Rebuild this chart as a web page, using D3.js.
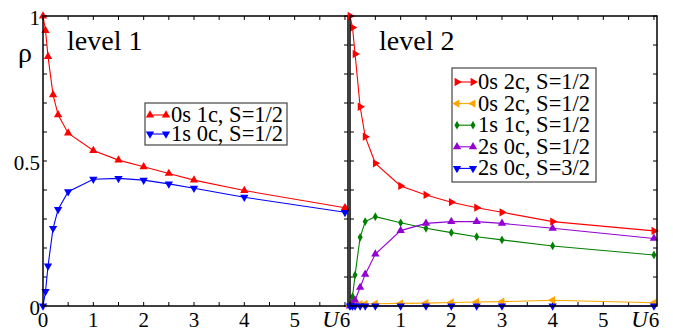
<!DOCTYPE html>
<html>
<head>
<meta charset="utf-8">
<script src="https://cdn.jsdelivr.net/npm/d3@7"></script>
<style>
  body { margin: 0; background: #fff; }
  svg { display: block; font-family: "Liberation Serif", "DejaVu Serif", serif; }
</style>
</head>
<body>
<svg id="chart" width="673" height="333"></svg>
<script>
// data
var U = [0, 0.05, 0.1, 0.2, 0.3, 0.5, 1, 1.5, 2, 2.5, 3, 4, 6];

// level 1
var l1_0s1c = [1.0, 0.95, 0.86, 0.728, 0.659, 0.596, 0.536, 0.503, 0.48, 0.457, 0.434, 0.398, 0.339];
var l1_1s0c = [0, 0.05, 0.138, 0.268, 0.333, 0.394, 0.437, 0.44, 0.434, 0.421, 0.406, 0.375, 0.323];

// level 2
var l2_0s2c_a = [1.0, 0.96, 0.869, 0.687, 0.584, 0.492, 0.414, 0.383, 0.358, 0.339, 0.323, 0.291, 0.259];
var l2_0s2c_b = [0, 0.003, 0.005, 0.006, 0.007, 0.008, 0.009, 0.01, 0.012, 0.014, 0.015, 0.02, 0.011];
var l2_1s1c   = [0, 0.032, 0.107, 0.237, 0.291, 0.308, 0.287, 0.268, 0.253, 0.239, 0.228, 0.207, 0.176];
var l2_2s0c_a = [0, 0.005, 0.02, 0.064, 0.109, 0.179, 0.26, 0.285, 0.291, 0.291, 0.285, 0.268, 0.233];
var l2_2s0c_b = [0, 0, 0, 0, 0, 0, 0, 0, 0, 0, 0, 0, 0];

var yTickLabels = ['0', '0.5', '1'];
var xTickLabels1 = ['0', '1', '2', '3', '4', '5'];
var xTickLabels2 = ['1', '2', '3', '4', '5'];

var svg = d3.select('#chart');
var plotTop = 16, plotBottom = 306;

var y = d3.scaleLinear().domain([0, 1]).range([plotBottom, plotTop]);

// marker shapes: symbol + rotation
var shapes = {
    up:    { sym: d3.symbolTriangle, rot: 0,   size: 30 },
    down:  { sym: d3.symbolTriangle, rot: 180, size: 30 },
    right: { sym: d3.symbolTriangle, rot: 90,  size: 30 },
    left:  { sym: d3.symbolTriangle, rot: -90, size: 30 },
    diamond: { sym: d3.symbolDiamond, rot: 0, size: 22 }
};

function marker(g, shape, color, cx, cy) {
    var s = shapes[shape];
    g.append('path')
        .attr('d', d3.symbol().type(s.sym).size(s.size)())
        .attr('transform', 'translate(' + cx + ',' + cy + ') rotate(' + s.rot + ')')
        .attr('fill', color);
}

function drawPanel(x0, x1, series, title, titleX, xLabels, legend) {
    var x = d3.scaleLinear().domain([0, 6.06]).range([x0, x1]);
    var g = svg.append('g');

    // minor ticks, inside the frame
    var xt = d3.range(0, 6.01, 0.5);
    var yt = d3.range(0, 1.001, 0.1);
    xt.forEach(function(t) {
        g.append('line').attr('x1', x(t)).attr('x2', x(t)).attr('y1', plotBottom).attr('y2', plotBottom - 4)
            .attr('stroke', '#000').attr('stroke-width', 1);
        g.append('line').attr('x1', x(t)).attr('x2', x(t)).attr('y1', plotTop).attr('y2', plotTop + 4)
            .attr('stroke', '#000').attr('stroke-width', 1);
    });
    yt.forEach(function(t) {
        g.append('line').attr('x1', x0).attr('x2', x0 + 4).attr('y1', y(t)).attr('y2', y(t))
            .attr('stroke', '#000').attr('stroke-width', 1);
        g.append('line').attr('x1', x1).attr('x2', x1 - 4).attr('y1', y(t)).attr('y2', y(t))
            .attr('stroke', '#000').attr('stroke-width', 1);
    });

    // series
    var line = d3.line().x(function(d) { return x(d[0]); }).y(function(d) { return y(d[1]); });
    series.forEach(function(s) {
        var pts = U.map(function(u, i) { return [u, s.values[i]]; });
        g.append('path').datum(pts).attr('d', line)
            .attr('fill', 'none').attr('stroke', s.color).attr('stroke-width', 1.1);
        pts.forEach(function(p) { marker(g, s.shape, s.color, x(p[0]), y(p[1])); });
    });

    // frame
    g.append('rect').attr('x', x0).attr('y', plotTop).attr('width', x1 - x0).attr('height', plotBottom - plotTop)
        .attr('fill', 'none').attr('stroke', '#000').attr('stroke-width', 1.5);

    // x tick labels
    xLabels.forEach(function(l) {
        g.append('text').attr('x', x(+l)).attr('y', 327).attr('text-anchor', 'middle')
            .style('font-size', '21px').text(l);
    });
    g.append('text').attr('x', x(6)).attr('y', 327).attr('text-anchor', 'middle')
        .style('font-size', '21px').text('6');
    g.append('text').attr('x', x(6) - 6).attr('y', 327).attr('text-anchor', 'end')
        .style('font-size', '23px').style('font-style', 'italic').text('U');

    // title
    g.append('text').attr('x', titleX).attr('y', 50).style('font-size', '28px').text(title);

    // legend
    var lg = g.append('g');
    lg.append('rect').attr('x', legend.x).attr('y', legend.y).attr('width', legend.w).attr('height', legend.h)
        .attr('fill', '#fff').attr('stroke', '#444').attr('stroke-width', 1.2);
    series.forEach(function(s, i) {
        var cy = legend.y + legend.first + i * legend.step;
        lg.append('line').attr('x1', legend.x + 5).attr('x2', legend.x + 21).attr('y1', cy).attr('y2', cy)
            .attr('stroke', s.color).attr('stroke-width', 1.1);
        marker(lg, s.shape, s.color, legend.x + 5, cy);
        marker(lg, s.shape, s.color, legend.x + 21, cy);
        lg.append('text').attr('x', legend.x + 26).attr('y', cy + 7)
            .style('font-size', '22.5px').text(s.name);
    });
}

// y tick labels and axis symbol
yTickLabels.forEach(function(l) {
    svg.append('text').attr('x', 40).attr('y', y(+l) + 9).attr('text-anchor', 'end')
        .style('font-size', '21px').text(l);
});
svg.append('text').attr('x', 18).attr('y', 62).style('font-size', '28px').text('ρ');

drawPanel(43, 348, [
    { name: '0s 1c, S=1/2', values: l1_0s1c, color: '#ff0000', shape: 'up' },
    { name: '1s 0c, S=1/2', values: l1_1s0c, color: '#0000ff', shape: 'down' }
], 'level 1', 67, xTickLabels1, { x: 145, y: 103, w: 142, h: 42, first: 12, step: 19 });

drawPanel(350, 657, [
    { name: '0s 2c, S=1/2', values: l2_0s2c_a, color: '#ff0000', shape: 'right' },
    { name: '0s 2c, S=1/2', values: l2_0s2c_b, color: '#ffa500', shape: 'left' },
    { name: '1s 1c, S=1/2', values: l2_1s1c,   color: '#008000', shape: 'diamond' },
    { name: '2s 0c, S=1/2', values: l2_2s0c_a, color: '#9400d3', shape: 'up' },
    { name: '2s 0c, S=3/2', values: l2_2s0c_b, color: '#0000ff', shape: 'down' }
], 'level 2', 379, xTickLabels2, { x: 452, y: 68, w: 144, h: 114, first: 14, step: 21.6 });
</script>
</body>
</html>
